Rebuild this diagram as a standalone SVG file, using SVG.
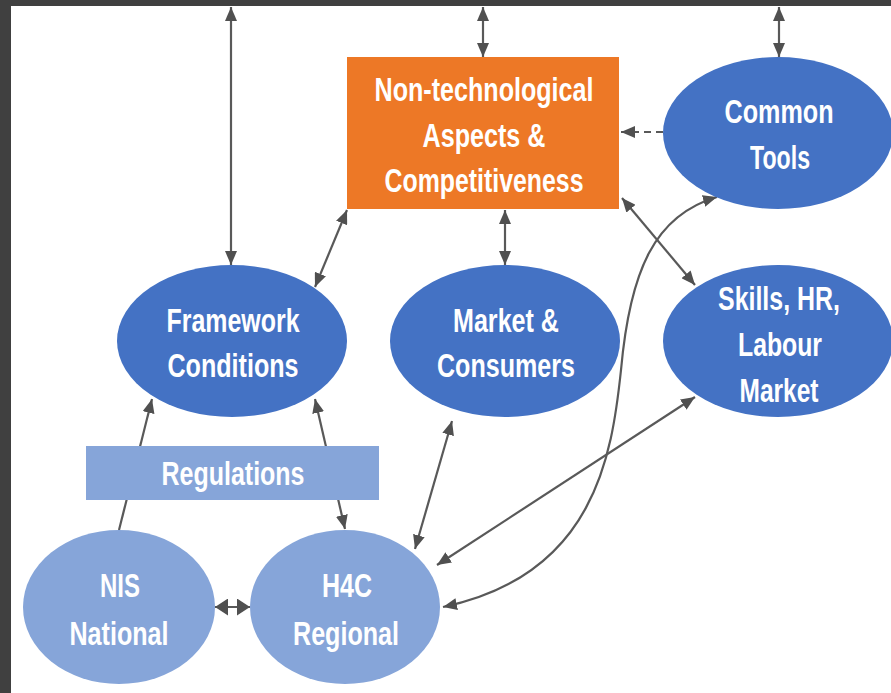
<svg xmlns="http://www.w3.org/2000/svg" width="891" height="693" viewBox="0 0 891 693">
<defs>
<style>
.conn{fill:none;stroke:#595959;stroke-width:2.2}
.dk{fill:#4472C4}
.lt{fill:#86A5D9}
.t{fill:#fff;font-family:"Liberation Sans Narrow","Liberation Sans",Arial,sans-serif;font-weight:bold;font-size:34px;text-anchor:middle}
</style>
<marker id="ah" viewBox="0 0 14 12" refX="14" refY="6" markerWidth="14" markerHeight="12" markerUnits="userSpaceOnUse" orient="auto-start-reverse">
<path d="M0,0 L14,6 L0,12 z" fill="#505050"/>
</marker>
<marker id="ahb" viewBox="0 0 13 17" refX="13" refY="8.5" markerWidth="13" markerHeight="17" markerUnits="userSpaceOnUse" orient="auto-start-reverse">
<path d="M0,0 L13,8.5 L0,17 z" fill="#505050"/>
</marker>
</defs>
<rect x="0" y="0" width="891" height="693" fill="#fff"/>
<rect x="0" y="0" width="891" height="6" fill="#404040"/>
<rect x="0" y="0" width="11" height="693" fill="#404040"/>

<g id="connectors">
<line class="conn" x1="231" y1="7" x2="231" y2="265" marker-start="url(#ah)" marker-end="url(#ah)"/>
<line class="conn" x1="483" y1="7" x2="483" y2="57" marker-start="url(#ah)" marker-end="url(#ah)"/>
<line class="conn" x1="779" y1="7" x2="779" y2="57" marker-start="url(#ah)" marker-end="url(#ah)"/>
<line class="conn" x1="663" y1="132" x2="621" y2="132" stroke-dasharray="7,5" marker-end="url(#ah)"/>
<line class="conn" x1="347" y1="210" x2="315" y2="287" marker-start="url(#ah)" marker-end="url(#ah)"/>
<line class="conn" x1="505" y1="210" x2="505" y2="265" marker-start="url(#ah)" marker-end="url(#ah)"/>
<line class="conn" x1="622" y1="198" x2="695" y2="285" marker-start="url(#ah)" marker-end="url(#ah)"/>
<path class="conn" d="M443,607 C595,575 612,455 621,370 C630,270 655,215 717,197" marker-start="url(#ah)" marker-end="url(#ah)"/>
<line class="conn" x1="437" y1="565" x2="695" y2="397" marker-start="url(#ah)" marker-end="url(#ah)"/>
<line class="conn" x1="415" y1="549" x2="452" y2="421" marker-start="url(#ah)" marker-end="url(#ah)"/>
<line class="conn" x1="315" y1="399" x2="345" y2="529" marker-start="url(#ah)" marker-end="url(#ah)"/>
<line class="conn" x1="119" y1="530" x2="152" y2="399" marker-end="url(#ah)"/>
<line class="conn" x1="215" y1="607" x2="250" y2="607" stroke-width="4" marker-start="url(#ahb)" marker-end="url(#ahb)"/>
</g>

<g id="non-tech">
<rect x="347" y="57" width="272" height="152" fill="#ED7826"/>
<text class="t" x="484" y="101" textLength="219" lengthAdjust="spacingAndGlyphs">Non-technological</text>
<text class="t" x="484" y="147" textLength="123" lengthAdjust="spacingAndGlyphs">Aspects &amp;</text>
<text class="t" x="484" y="192" textLength="199" lengthAdjust="spacingAndGlyphs">Competitiveness</text>
</g>

<g id="common-tools">
<ellipse class="dk" cx="778" cy="133" rx="115" ry="76"/>
<text class="t" x="779" y="123" textLength="109" lengthAdjust="spacingAndGlyphs">Common</text>
<text class="t" x="780" y="169" textLength="60" lengthAdjust="spacingAndGlyphs">Tools</text>
</g>

<g id="framework">
<ellipse class="dk" cx="232" cy="341" rx="115" ry="76"/>
<text class="t" x="233" y="332" textLength="133" lengthAdjust="spacingAndGlyphs">Framework</text>
<text class="t" x="233" y="377" textLength="131" lengthAdjust="spacingAndGlyphs">Conditions</text>
</g>

<g id="market">
<ellipse class="dk" cx="505" cy="341" rx="115" ry="76"/>
<text class="t" x="506" y="332" textLength="106" lengthAdjust="spacingAndGlyphs">Market &amp;</text>
<text class="t" x="506" y="377" textLength="138" lengthAdjust="spacingAndGlyphs">Consumers</text>
</g>

<g id="skills">
<ellipse class="dk" cx="778" cy="341" rx="115" ry="76"/>
<text class="t" x="779" y="310" textLength="122" lengthAdjust="spacingAndGlyphs">Skills, HR,</text>
<text class="t" x="780" y="356" textLength="84" lengthAdjust="spacingAndGlyphs">Labour</text>
<text class="t" x="779" y="402" textLength="79" lengthAdjust="spacingAndGlyphs">Market</text>
</g>

<g id="regulations">
<rect class="lt" x="86" y="446" width="293" height="54"/>
<text class="t" x="233" y="485" textLength="143" lengthAdjust="spacingAndGlyphs">Regulations</text>
</g>

<g id="nis">
<ellipse class="lt" cx="119" cy="607" rx="96" ry="77"/>
<text class="t" x="120" y="597" textLength="40" lengthAdjust="spacingAndGlyphs">NIS</text>
<text class="t" x="119" y="645" textLength="99" lengthAdjust="spacingAndGlyphs">National</text>
</g>

<g id="h4c">
<ellipse class="lt" cx="345" cy="607" rx="95" ry="77"/>
<text class="t" x="347" y="597" textLength="50" lengthAdjust="spacingAndGlyphs">H4C</text>
<text class="t" x="346" y="645" textLength="106" lengthAdjust="spacingAndGlyphs">Regional</text>
</g>
</svg>
